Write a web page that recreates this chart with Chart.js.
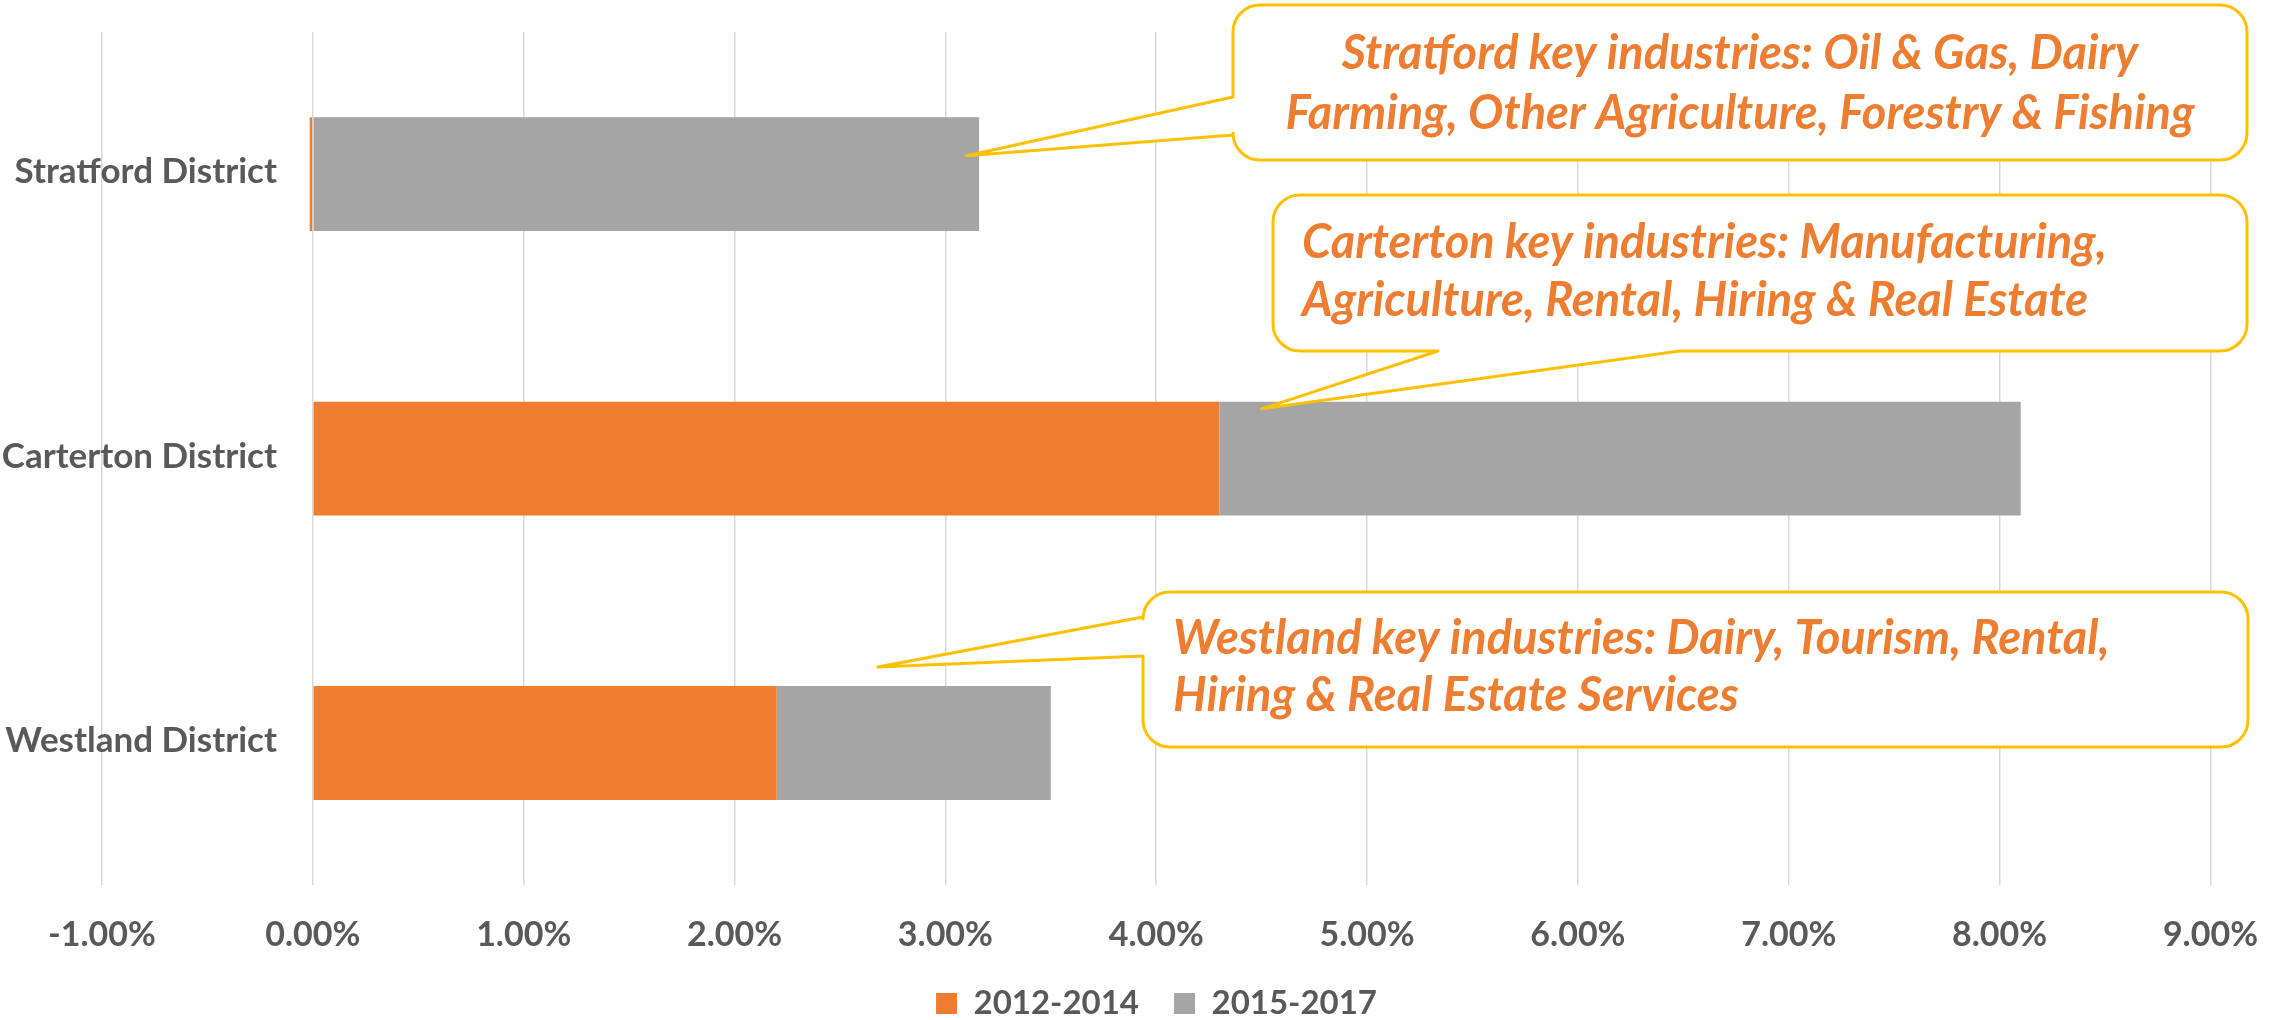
<!DOCTYPE html>
<html>
<head>
<meta charset="utf-8">
<script src="https://cdn.jsdelivr.net/npm/chart.js@4.4.1/dist/chart.umd.min.js"></script>
<style>
  html, body { margin: 0; padding: 0; background: #fff; }
  #wrap { width: 2287px; height: 1020px; }
</style>
</head>
<body>
<div id="wrap"><canvas id="chart"></canvas></div>
<script>
const districts = ['Stratford District', 'Carterton District', 'Westland District'];
const seriesNames = ['2012-2014', '2015-2017'];
const growth2012 = [-0.015, 4.30, 2.20];
const growth2015 = [3.16, 3.80, 1.30];
const axisMin = -1;
const axisMax = 9;
const notes = [
  ['Stratford key industries: Oil & Gas, Dairy', 'Farming, Other Agriculture, Forestry & Fishing'],
  ['Carterton key industries: Manufacturing,', 'Agriculture, Rental, Hiring & Real Estate'],
  ['Westland key industries: Dairy, Tourism, Rental,', 'Hiring & Real Estate Services'],
];

const TEXT = '#595959';
const ORANGE = '#ED7D31';
const GREY = '#A5A5A5';
const GOLD = '#FFC000';
const FONT = "Lato, 'Open Sans', sans-serif";

// callout boxes (px), wedge base on one side, tip anchored on the data scales
const callouts = [
  { box: [1233, 5, 2247, 160], wedge: ['left', 97, 135], tip: [3.10, 0, -0.065], align: 'center', textX: 1740, baselines: [69, 129] },
  { box: [1273, 195, 2247, 351], wedge: ['bottom', 1438, 1680], tip: [4.50, 1, -0.175], align: 'left', textX: 1302, baselines: [258, 316] },
  { box: [1143, 592, 2248, 747], wedge: ['left', 617, 656], tip: [2.68, 2, -0.267], align: 'left', textX: 1173, baselines: [654, 711] },
];

function calloutPath(ctx, c, tx, ty) {
  const [l, t, r, b] = c.box;
  const rad = 27;
  const w = c.wedge;
  ctx.beginPath();
  ctx.moveTo(l + rad, t);
  ctx.lineTo(r - rad, t);
  ctx.arcTo(r, t, r, t + rad, rad);
  ctx.lineTo(r, b - rad);
  ctx.arcTo(r, b, r - rad, b, rad);
  if (w[0] === 'bottom') {
    ctx.lineTo(w[2], b);
    ctx.lineTo(tx, ty);
    ctx.lineTo(w[1], b);
  }
  ctx.lineTo(l + rad, b);
  ctx.arcTo(l, b, l, b - rad, rad);
  if (w[0] === 'left') {
    ctx.lineTo(l, w[2]);
    ctx.lineTo(tx, ty);
    ctx.lineTo(l, w[1]);
  }
  ctx.lineTo(l, t + rad);
  ctx.arcTo(l, t, l + rad, t, rad);
  ctx.closePath();
}

const categoryLabels = {
  id: 'categoryLabels',
  afterDatasetsDraw(chart) {
    const { ctx, scales } = chart;
    ctx.save();
    ctx.font = `bold 35px ${FONT}`;
    ctx.fillStyle = TEXT;
    ctx.textAlign = 'right';
    ctx.textBaseline = 'middle';
    districts.forEach((name, i) => {
      ctx.fillText(name, 277, scales.y.getPixelForValue(i) - 2);
    });
    ctx.restore();
  },
};

const calloutPlugin = {
  id: 'callouts',
  afterDatasetsDraw(chart) {
    const { ctx, scales } = chart;
    ctx.save();
    callouts.forEach((c, i) => {
      const tx = scales.x.getPixelForValue(c.tip[0]);
      const ty = scales.y.getPixelForValue(c.tip[1] + c.tip[2]);
      calloutPath(ctx, c, tx, ty);
      ctx.fillStyle = '#fff';
      ctx.fill();
      ctx.lineWidth = 3;
      ctx.strokeStyle = GOLD;
      ctx.lineJoin = 'round';
      ctx.stroke();
      ctx.font = `italic bold 47px ${FONT}`;
      ctx.fillStyle = ORANGE;
      ctx.textAlign = c.align;
      ctx.textBaseline = 'alphabetic';
      notes[i].forEach((line, k) => ctx.fillText(line, c.textX, c.baselines[k]));
    });
    ctx.restore();
  },
};

new Chart(document.getElementById('chart'), {
  type: 'bar',
  data: {
    labels: districts,
    datasets: [
      { label: seriesNames[0], data: growth2012, backgroundColor: ORANGE, borderWidth: 0 },
      { label: seriesNames[1], data: growth2015, backgroundColor: GREY, borderWidth: 0 },
    ],
  },
  options: {
    indexAxis: 'y',
    responsive: true,
    maintainAspectRatio: false,
    animation: false,
    categoryPercentage: 0.8,
    barPercentage: 0.5,
    layout: {
      padding: { left: 102, right: 76, top: 32, bottom: -10 },
    },
    scales: {
      x: {
        stacked: true,
        min: axisMin,
        max: axisMax,
        ticks: {
          stepSize: 1,
          padding: 29,
          color: TEXT,
          font: { family: FONT, size: 34, weight: 'bold' },
          callback: (v) => v.toFixed(2) + '%',
        },
        grid: { color: '#D9D9D9', lineWidth: 1.5, drawTicks: false },
        border: { display: false },
      },
      y: {
        stacked: true,
        display: false,
      },
    },
    plugins: {
      legend: {
        position: 'bottom',
        labels: {
          boxWidth: 21,
          boxHeight: 21,
          padding: 3,
          color: TEXT,
          font: { family: FONT, size: 33, weight: 'bold' },
          // widen the gap after the first entry
          generateLabels: (chart) => Chart.defaults.plugins.legend.labels.generateLabels(chart)
            .map((item, i) => ({ ...item, text: i === 0 ? item.text + '    ' : item.text })),
        },
      },
      tooltip: { enabled: false },
    },
  },
  plugins: [categoryLabels, calloutPlugin],
});
</script>
</body>
</html>
